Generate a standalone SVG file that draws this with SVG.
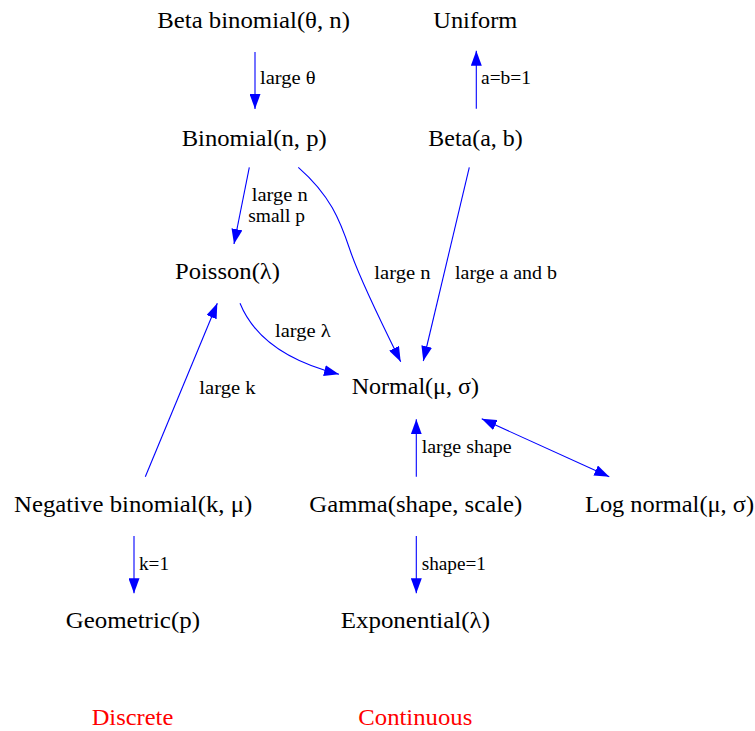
<svg xmlns="http://www.w3.org/2000/svg" width="755" height="731" viewBox="0 0 755 731">
<style>
.n{font-family:"Liberation Serif","Times New Roman",serif;font-size:23.5px;fill:#000}
.e{font-family:"Liberation Serif","Times New Roman",serif;font-size:19px;fill:#000}
.c{font-family:"Liberation Serif","Times New Roman",serif;font-size:23.5px;fill:#ff0000}
.l{fill:none;stroke:#0000ff;stroke-width:1.1}
</style>
<defs>
<marker id="ah" viewBox="0 0 15 11" refX="15" refY="5.5" markerWidth="15" markerHeight="11" markerUnits="userSpaceOnUse" orient="auto-start-reverse"><path d="M0,0 L15,5.5 L0,11 z" fill="#0000ff"/></marker>
</defs>
<rect width="755" height="731" fill="#fff"/>
<g id="connectors">
<path class="l" d="M255,52 L255,109" marker-end="url(#ah)"/>
<text class="e" x="260" y="84" textLength="55.7" lengthAdjust="spacingAndGlyphs">large θ</text>
<path class="l" d="M476.3,108.7 L476.3,50.7" marker-end="url(#ah)"/>
<text class="e" x="481" y="84" textLength="50" lengthAdjust="spacingAndGlyphs">a=b=1</text>
<path class="l" d="M249.3,167.3 L234,244" marker-end="url(#ah)"/>
<text class="e" x="251.7" y="200.7" textLength="56" lengthAdjust="spacingAndGlyphs">large n</text>
<text class="e" x="248.3" y="221.7" textLength="56.7" lengthAdjust="spacingAndGlyphs">small p</text>
<path class="l" d="M298.3,167.3 C330,195 340,220 350,250 S385,330 400.7,361.7" marker-end="url(#ah)"/>
<text class="e" x="374.3" y="279.3" textLength="56.3" lengthAdjust="spacingAndGlyphs">large n</text>
<path class="l" d="M469.3,167.3 L423.3,361" marker-end="url(#ah)"/>
<text class="e" x="455" y="279.3" textLength="102" lengthAdjust="spacingAndGlyphs">large a and b</text>
<path class="l" d="M240,303.3 C255,340 290,362 339,374.3" marker-end="url(#ah)"/>
<text class="e" x="275" y="336.7" textLength="55.7" lengthAdjust="spacingAndGlyphs">large λ</text>
<path class="l" d="M145.3,476.7 L217.3,303.3" marker-end="url(#ah)"/>
<text class="e" x="199.3" y="394.3" textLength="56.3" lengthAdjust="spacingAndGlyphs">large k</text>
<path class="l" d="M416.3,476.7 L416.3,419.3" marker-end="url(#ah)"/>
<text class="e" x="421.7" y="452.7" textLength="90" lengthAdjust="spacingAndGlyphs">large shape</text>
<path class="l" d="M481.7,418.8 L609.3,476.7" marker-start="url(#ah)" marker-end="url(#ah)"/>
<path class="l" d="M134,536 L134,593.3" marker-end="url(#ah)"/>
<text class="e" x="139" y="570" textLength="30" lengthAdjust="spacingAndGlyphs">k=1</text>
<path class="l" d="M416.3,536 L416.3,593.3" marker-end="url(#ah)"/>
<text class="e" x="421.7" y="570" textLength="64.3" lengthAdjust="spacingAndGlyphs">shape=1</text>
</g>
<g id="betabinomial"><text class="n" x="157.3" y="28.3" textLength="192.7" lengthAdjust="spacingAndGlyphs">Beta binomial(θ, n)</text></g>
<g id="uniform"><text class="n" x="433.3" y="28.3" textLength="84" lengthAdjust="spacingAndGlyphs">Uniform</text></g>
<g id="binomial"><text class="n" x="181.7" y="145.7" textLength="145" lengthAdjust="spacingAndGlyphs">Binomial(n, p)</text></g>
<g id="beta"><text class="n" x="428.3" y="145.7" textLength="94.4" lengthAdjust="spacingAndGlyphs">Beta(a, b)</text></g>
<g id="poisson"><text class="n" x="175" y="279.3" textLength="105" lengthAdjust="spacingAndGlyphs">Poisson(λ)</text></g>
<g id="normal"><text class="n" x="351.7" y="394.3" textLength="127.3" lengthAdjust="spacingAndGlyphs">Normal(μ, σ)</text></g>
<g id="negbinomial"><text class="n" x="14" y="511.7" textLength="238.3" lengthAdjust="spacingAndGlyphs">Negative binomial(k, μ)</text></g>
<g id="gamma"><text class="n" x="309.3" y="511.7" textLength="213" lengthAdjust="spacingAndGlyphs">Gamma(shape, scale)</text></g>
<g id="lognormal"><text class="n" x="585" y="511.7" textLength="169" lengthAdjust="spacingAndGlyphs">Log normal(μ, σ)</text></g>
<g id="geometric"><text class="n" x="65.7" y="628" textLength="134.3" lengthAdjust="spacingAndGlyphs">Geometric(p)</text></g>
<g id="exponential"><text class="n" x="340.7" y="628" textLength="149.3" lengthAdjust="spacingAndGlyphs">Exponential(λ)</text></g>
<g id="discrete"><text class="c" x="91.7" y="725" textLength="81.6" lengthAdjust="spacingAndGlyphs">Discrete</text></g>
<g id="continuous"><text class="c" x="358.3" y="725" textLength="114" lengthAdjust="spacingAndGlyphs">Continuous</text></g>
</svg>
